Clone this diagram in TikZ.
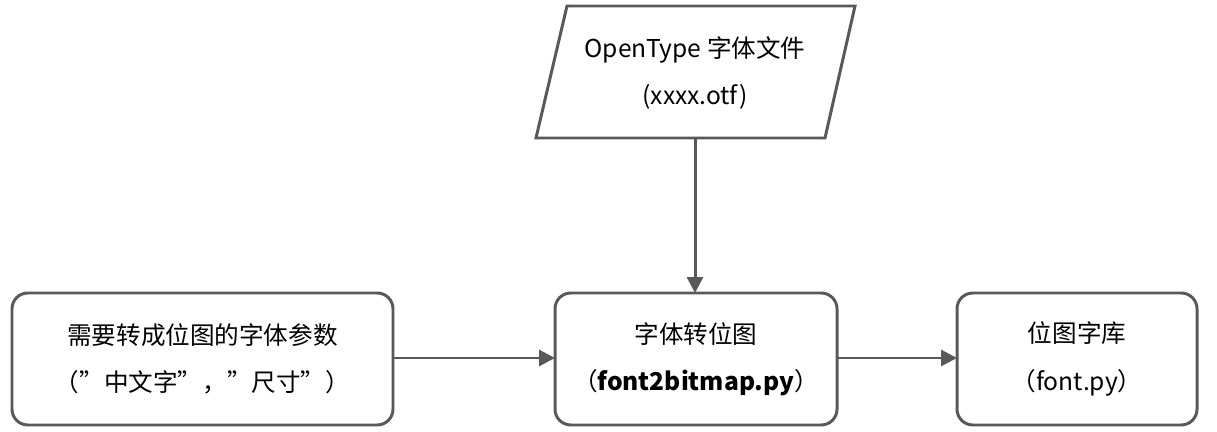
\documentclass[tikz,border=0pt]{standalone}
\usepackage{fontspec}
\setmainfont{Noto Sans CJK SC}
\usetikzlibrary{arrows.meta}
\newcommand{\dq}{\symbol{"22}}
\begin{document}
\begin{tikzpicture}[x=0.02cm,y=-0.02cm,
  line/.style={draw=black!65,line width=1.7pt},
  txt/.style={align=center,font=\fontsize{14}{27}\selectfont},
  arr/.style={line,-{Triangle[length=9pt,width=9pt]}}]
\useasboundingbox (0,0) rectangle (1217,432);
\draw[line] (567,6) -- (855,6) -- (825,138) -- (536,138) -- cycle;
\node[txt] (src) at (695,73) {OpenType 字体文件\\(xxxx.otf)};
\coordinate (srcb) at (695,138);
\path[line,rounded corners=9pt] (12,293) rectangle (393,425);
\node[txt] (l) at (202.5,359) {需要转成位图的字体参数\\（\dq 中文字\dq ，\dq 尺寸\dq ）};
\path[line,rounded corners=9pt] (555,293) rectangle (837,425);
\node[txt] (m) at (696,359) {字体转位图\\（\textbf{font2bitmap.py}）};
\path[line,rounded corners=9pt] (957,293) rectangle (1197,425);
\node[txt] (r) at (1077,359) {位图字库\\（font.py）};
\coordinate (lr) at (393,358);
\coordinate (ml) at (555,358);
\coordinate (mt) at (695,293);
\coordinate (mr) at (837,358);
\coordinate (rl) at (957,358);
\draw[arr] (srcb) -- (mt);
\draw[arr] (lr) -- (ml);
\draw[arr] (mr) -- (rl);
\end{tikzpicture}
\end{document}
